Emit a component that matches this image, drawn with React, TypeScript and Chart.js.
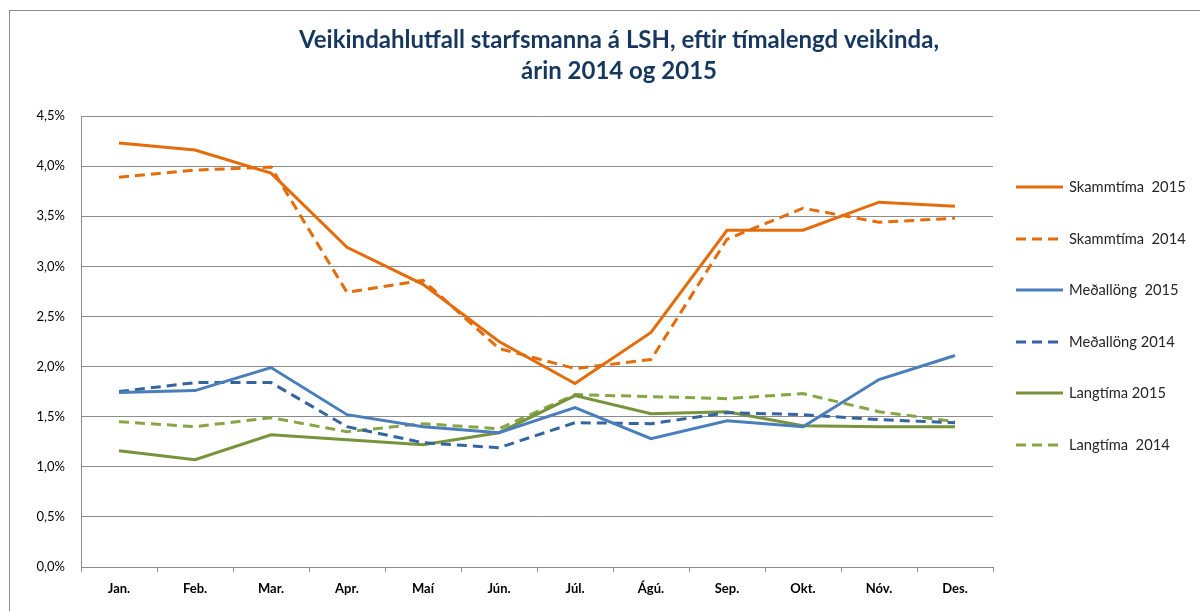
import React, { useEffect, useRef } from "react";
import { Chart, registerables } from "chart.js";

Chart.register(...registerables);

const titleLines = [
  "Veikindahlutfall starfsmanna á LSH, eftir tímalengd veikinda,",
  "árin 2014 og 2015",
];

const months = ["Jan.", "Feb.", "Mar.", "Apr.", "Maí", "Jún.", "Júl.", "Ágú.", "Sep.", "Okt.", "Nóv.", "Des."];

const skammtima2015 = [4.23, 4.16, 3.93, 3.19, 2.82, 2.25, 1.83, 2.34, 3.36, 3.36, 3.64, 3.6];
const skammtima2014 = [3.89, 3.96, 3.99, 2.74, 2.86, 2.18, 1.98, 2.07, 3.27, 3.58, 3.44, 3.48];
const medallong2015 = [1.74, 1.76, 1.99, 1.52, 1.4, 1.34, 1.59, 1.28, 1.46, 1.4, 1.87, 2.11];
const medallong2014 = [1.75, 1.84, 1.84, 1.4, 1.24, 1.19, 1.44, 1.43, 1.54, 1.52, 1.47, 1.44];
const langtima2015 = [1.16, 1.07, 1.32, 1.27, 1.22, 1.34, 1.71, 1.53, 1.55, 1.41, 1.4, 1.4];
const langtima2014 = [1.45, 1.4, 1.49, 1.35, 1.43, 1.38, 1.72, 1.7, 1.68, 1.73, 1.55, 1.45];

const seriesLabels = [
  "Skammtíma  2015",
  "Skammtíma  2014",
  "Meðallöng  2015",
  "Meðallöng 2014",
  "Langtíma 2015",
  "Langtíma  2014",
];

const ORANGE = "#E46C0A";
const BLUE = "#4A7EBB";
const BLUE_DARK = "#3565A0";
const GREEN = "#77933C";
const GREEN_LIGHT = "#86A545";
const DASH = [10, 6];

const FONT = "Lato, 'Open Sans', sans-serif";

const decorPlugin = {
  id: "decor",
  beforeDraw(chart: any) {
    const ctx = chart.ctx;
    ctx.save();
    ctx.fillStyle = "#ffffff";
    ctx.fillRect(0, 0, chart.width, chart.height);
    ctx.strokeStyle = "#8c8c8c";
    ctx.lineWidth = 1;
    ctx.strokeRect(9.5, 10.5, chart.width + 20, chart.height + 20);
    ctx.fillStyle = "#17375E";
    ctx.font = `bold 24px ${FONT}`;
    ctx.textAlign = "center";
    ctx.textBaseline = "middle";
    ctx.fillText(titleLines[0], 619, 40);
    ctx.fillText(titleLines[1], 619, 71);
    ctx.restore();
  },
  afterDraw(chart: any) {
    const ctx = chart.ctx;
    ctx.save();
    const ys = [187, 239, 290, 342, 393, 445];
    chart.data.datasets.forEach((ds: any, i: number) => {
      const y = ys[i];
      ctx.strokeStyle = ds.borderColor;
      ctx.lineWidth = 3;
      ctx.setLineDash(ds.borderDash || []);
      ctx.beginPath();
      ctx.moveTo(1016, y);
      ctx.lineTo(1063, y);
      ctx.stroke();
      ctx.setLineDash([]);
      ctx.fillStyle = "#262626";
      ctx.font = `14.7px ${FONT}`;
      ctx.textAlign = "left";
      ctx.textBaseline = "middle";
      ctx.fillText(ds.label, 1069, y);
    });
    ctx.restore();
  },
};

export default function App() {
  const ref = useRef<HTMLCanvasElement | null>(null);

  useEffect(() => {
    if (!ref.current) return;
    const mk = (label: string, data: number[], color: string, dashed: boolean) => ({
      label,
      data,
      borderColor: color,
      backgroundColor: color,
      borderWidth: 3,
      borderDash: dashed ? DASH : [],
      pointRadius: 0,
      pointHoverRadius: 0,
      tension: 0,
      fill: false,
    });
    const chart = new Chart(ref.current, {
      type: "line",
      data: {
        labels: months,
        datasets: [
          mk(seriesLabels[0], skammtima2015, ORANGE, false),
          mk(seriesLabels[1], skammtima2014, ORANGE, true),
          mk(seriesLabels[2], medallong2015, BLUE, false),
          mk(seriesLabels[3], medallong2014, BLUE_DARK, true),
          mk(seriesLabels[4], langtima2015, GREEN, false),
          mk(seriesLabels[5], langtima2014, GREEN_LIGHT, true),
        ],
      },
      options: {
        responsive: false,
        animation: false,
        devicePixelRatio: 1,
        layout: { padding: { left: 0, right: 207, top: 116, bottom: 0 } },
        plugins: {
          legend: { display: false },
          title: { display: false },
          tooltip: { enabled: false },
        },
        scales: {
          x: {
            type: "category",
            offset: true,
            grid: {
              display: true,
              offset: true,
              drawOnChartArea: false,
              drawTicks: true,
              tickLength: 5,
              color: "#8c8c8c",
            },
            border: { display: true, color: "#8c8c8c", width: 1 },
            ticks: {
              color: "#000000",
              font: { family: FONT, size: 13, weight: "bold" },
              padding: 9,
              maxRotation: 0,
              autoSkip: false,
            },
            afterFit(scale: any) {
              scale.height = 44;
            },
          },
          y: {
            min: 0,
            max: 4.5,
            ticks: {
              stepSize: 0.5,
              color: "#000000",
              font: { family: FONT, size: 13 },
              padding: 16,
              callback: (v: any) => Number(v).toFixed(1).replace(".", ",") + "%",
            },
            grid: { color: "#8c8c8c", drawTicks: false, lineWidth: 1 },
            border: { display: true, color: "#8c8c8c", width: 1 },
            afterFit(scale: any) {
              scale.width = 81;
            },
          },
        },
      },
      plugins: [decorPlugin],
    } as any);
    return () => chart.destroy();
  }, []);

  return (
    <div style={{ position: "fixed", left: 0, top: 0, width: 1200, height: 611 }}>
      <canvas ref={ref} width={1200} height={611} style={{ display: "block" }} />
    </div>
  );
}
